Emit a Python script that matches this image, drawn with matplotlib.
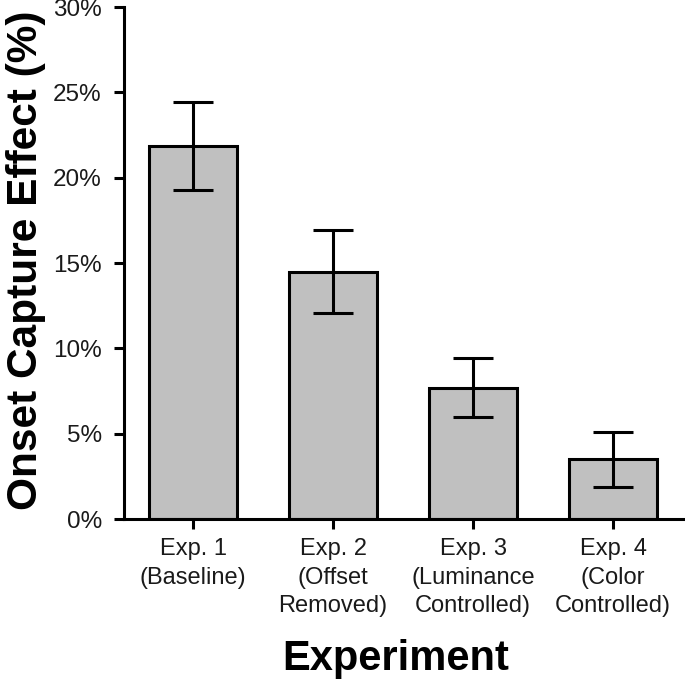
import matplotlib
matplotlib.use("Agg")
import matplotlib.pyplot as plt
from matplotlib.ticker import FuncFormatter

plt.rcParams['font.family'] = ['Liberation Sans', 'DejaVu Sans']

categories = ["Exp. 1\n(Baseline)", "Exp. 2\n(Offset\nRemoved)",
              "Exp. 3\n(Luminance\nControlled)", "Exp. 4\n(Color\nControlled)"]
means = [21.85, 14.5, 7.7, 3.5]
errors = [2.6, 2.45, 1.75, 1.6]
yticks = [0, 5, 10, 15, 20, 25, 30]

fig = plt.figure(figsize=(6.85, 6.82), dpi=100)
ax = fig.add_axes([124/685, 1 - 519/682, 1 - 124/685, (519 - 7)/682])

x = list(range(len(categories)))
ax.bar(x, means, width=0.63, color='#c0c0c0', edgecolor='black', linewidth=2.2, zorder=2)
ax.errorbar(x, means, yerr=errors, fmt='none', ecolor='black', elinewidth=2.2,
            capsize=14.5, capthick=2.2, zorder=3)

ax.set_xlim(-0.493, 3.514)
ax.set_ylim(0, 30)
ax.set_yticks(yticks)
ax.yaxis.set_major_formatter(FuncFormatter(lambda v, p: f"{int(v)}%"))
ax.set_xticks(x)
ax.set_xticklabels(categories, fontsize=17, linespacing=1.37, color='#1a1a1a')
for lab in ax.get_yticklabels():
    lab.set_fontsize(17.5)
    lab.set_color('#1a1a1a')

for s in ['top', 'right']:
    ax.spines[s].set_visible(False)
for s in ['left', 'bottom']:
    ax.spines[s].set_linewidth(2.2)
ax.tick_params(axis='both', width=2.2, length=7, direction='out')
ax.tick_params(axis='y', pad=9)
ax.tick_params(axis='x', pad=7)

ax.set_ylabel("Onset Capture Effect (%)", fontsize=30.5, fontweight='bold')
ax.yaxis.set_label_coords(-(124 - 46) / 561, 0.505)
ax.set_xlabel("Experiment", fontsize=30, fontweight='bold')
ax.xaxis.set_label_coords(0.485, -(639 - 519) / 512)

fig.savefig("out.png", dpi=100)
